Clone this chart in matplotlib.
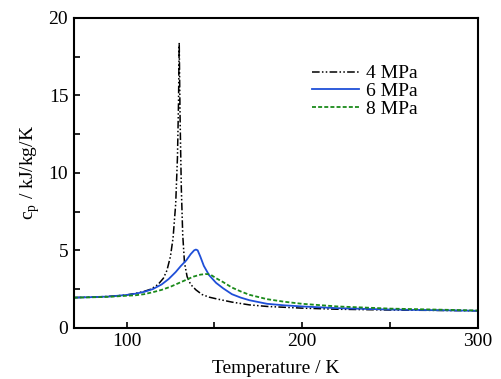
import matplotlib
matplotlib.use("Agg")
import matplotlib.pyplot as plt
from matplotlib.ticker import MultipleLocator

plt.rcParams['font.family'] = ['Liberation Serif', 'DejaVu Serif']
plt.rcParams['mathtext.fontset'] = 'custom'
plt.rcParams['mathtext.rm'] = 'Liberation Serif'

# 4 MPa
t_4 = [70, 80, 90, 100, 105, 110, 114, 118, 121, 123, 125, 126.5, 128, 129,
       129.6, 130, 130.5, 131.2, 132, 133, 134.5, 136.5, 139.5, 143, 147, 152,
       160, 170, 180, 200, 220, 250, 300]
cp_4 = [1.95, 1.98, 2.03, 2.12, 2.22, 2.35, 2.5, 2.8, 3.2, 3.7, 4.6, 5.8, 8.0,
        11.0, 14.5, 18.4, 13.5, 9.0, 6.0, 4.2, 3.3, 2.8, 2.45, 2.15, 1.98, 1.85,
        1.66, 1.48, 1.38, 1.27, 1.2, 1.15, 1.1]

# 6 MPa
t_6 = [70, 80, 90, 100, 105, 110, 115, 120, 124, 128, 131, 134, 136.5, 138.5,
       139.5, 140.5, 142, 144, 147, 151, 155, 160, 165, 170, 180, 190, 200, 220,
       250, 300]
cp_6 = [1.95, 1.98, 2.02, 2.12, 2.2, 2.32, 2.5, 2.8, 3.15, 3.6, 4.0, 4.35, 4.75,
        5.0, 5.05, 5.0, 4.6, 4.0, 3.4, 2.9, 2.55, 2.17, 1.95, 1.78, 1.55, 1.45,
        1.38, 1.27, 1.18, 1.1]

# 8 MPa
t_8 = [70, 80, 90, 100, 105, 110, 115, 120, 125, 130, 134, 138, 142, 145, 146.5,
       148, 151, 155, 160, 165, 170, 180, 190, 200, 220, 250, 300]
cp_8 = [1.95, 1.97, 2.0, 2.07, 2.1, 2.17, 2.3, 2.45, 2.65, 2.9, 3.1, 3.3, 3.43,
        3.47, 3.46, 3.42, 3.2, 2.95, 2.6, 2.35, 2.13, 1.85, 1.68, 1.55, 1.38,
        1.24, 1.12]

fig = plt.figure(figsize=(5.02, 3.79), dpi=100)
ax = fig.add_axes([0.147, 0.135, 0.805, 0.818])

ax.plot(t_4, cp_4, color='black', lw=1.1, dashes=(5, 1.5, 1, 1.5, 1, 1.5),
        label='4 MPa')
ax.plot(t_6, cp_6, color='#1f4fd8', lw=1.3, label='6 MPa')
ax.plot(t_8, cp_8, color='#1a8a1a', lw=1.3, dashes=(2.2, 1.2), label='8 MPa')

ax.set_xlim(70, 300)
ax.set_ylim(0, 20)
ax.xaxis.set_major_locator(MultipleLocator(100))
ax.xaxis.set_minor_locator(MultipleLocator(50))
ax.yaxis.set_major_locator(MultipleLocator(5))
ax.yaxis.set_minor_locator(MultipleLocator(2.5))
ax.tick_params(which='both', direction='in', length=4, width=1.2,
               labelsize=14, pad=4)
for s in ax.spines.values():
    s.set_linewidth(1.5)

ax.set_xlabel('Temperature / K', fontsize=14, labelpad=7)
ax.set_ylabel(r'c$_\mathregular{p}$ / kJ/kg/K', fontsize=14, labelpad=5)

ax.legend(loc='upper left', bbox_to_anchor=(0.565, 0.88), frameon=False,
          fontsize=14, handlelength=2.4, handletextpad=0.4, labelspacing=0.0,
          borderpad=0)

fig.savefig('out.png', dpi=100)
